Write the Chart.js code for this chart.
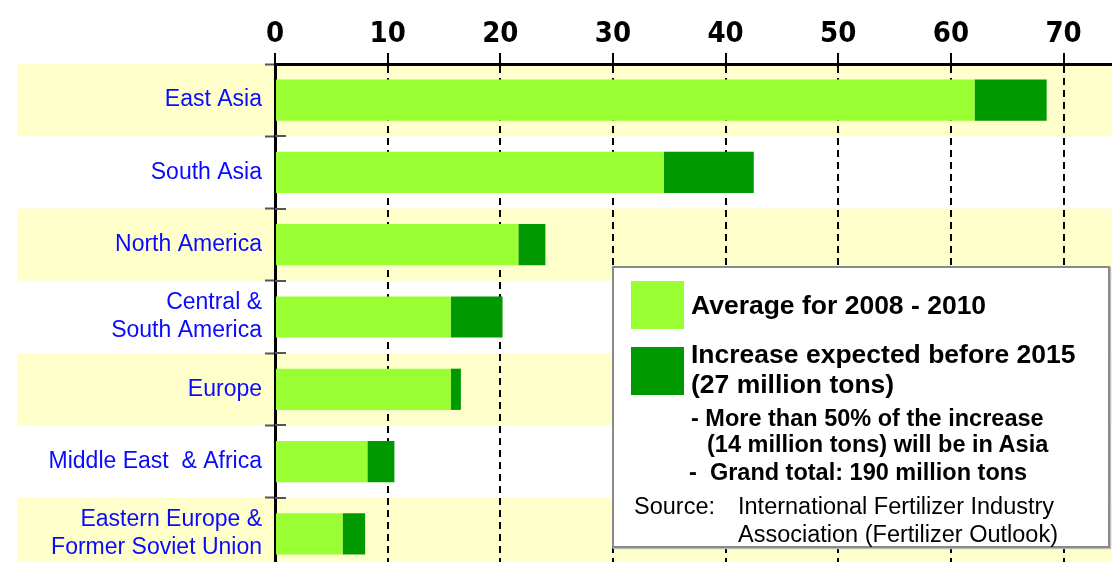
<html>
<head>
<meta charset="UTF-8" />
<title>Fertilizer demand by region</title>
<script src="https://cdn.jsdelivr.net/npm/chart.js"></script>
<style>
    body {
        margin: 0;
        padding: 0;
        overflow: hidden;
        background: #ffffff;
        font-family: "Liberation Sans", Arial, sans-serif;
    }
    #wrap {
        position: relative;
        width: 1112px;
        height: 570px;
    }
    #legendBox {
        position: absolute;
        left: 612px;
        top: 266px;
        width: 494px;
        height: 278px;
        background: #ffffff;
        border: 2px solid #8a8a8a;
        box-shadow: 1px 1px 1px #bbbbbb;
    }
    #legendBox div {
        position: absolute;
        white-space: pre;
        color: #000;
    }
    .sw {
        left: 17px;
        width: 53px;
        height: 48px;
    }
    .big { font-weight: bold; font-size: 26.5px; }
    .note { font-weight: bold; font-size: 23.5px; }
    .src { font-size: 23.5px; }
</style>
<script>
// regions (top to bottom)
var regions = [
    ["East Asia"],
    ["South Asia"],
    ["North America"],
    ["Central &", "South America"],
    ["Europe"],
    ["Middle East  & Africa"],
    ["Eastern Europe &", "Former Soviet Union"]
];
// million tons
var avg0810   = [62.1, 34.5, 21.6, 15.6, 15.6, 8.2, 6.0];
var incr2015  = [6.4, 8.0, 2.4, 4.6, 0.9, 2.4, 2.0];
var seriesNames = ["Average for 2008 - 2010", "Increase expected before 2015"];
var seriesColors = ["#99ff33", "#009900"];
var xTicks = [0, 10, 20, 30, 40, 50, 60, 70];
var axisMax = 74.3;
</script>
</head>
<body>
<div id="wrap">
    <canvas id="chart" width="1112" height="570"></canvas>
    <div id="legendBox">
        <div class="sw" style="top:13px; background:#99ff33;"></div>
        <div class="big" id="lab0" style="left:77px; top:22px;"></div>
        <div class="sw" style="top:79px; background:#009900;"></div>
        <div class="big" id="lab1" style="left:77px; top:71px;"></div>
        <div class="big" style="left:77px; top:101px;">(27 million tons)</div>
        <div class="note" style="left:77px; top:137px;">- More than 50% of the increase</div>
        <div class="note" style="left:93px; top:163px;">(14 million tons) will be in Asia</div>
        <div class="note" style="left:75px; top:191px;">-  Grand total: 190 million tons</div>
        <div class="src" style="left:20px; top:225px;">Source:</div>
        <div class="src" style="left:124px; top:225px;">International Fertilizer Industry</div>
        <div class="src" style="left:124px; top:253px;">Association (Fertilizer Outlook)</div>
    </div>
</div>

<script>
document.getElementById("lab0").textContent = seriesNames[0];
document.getElementById("lab1").textContent = seriesNames[1];

// alternating pale yellow row bands behind everything
const bandPlugin = {
    id: "bands",
    beforeDraw(chart) {
        const ys = chart.scales.y;
        const ctx = chart.ctx;
        const half = (ys.getPixelForValue(1) - ys.getPixelForValue(0)) / 2;
        ctx.save();
        ctx.fillStyle = "#ffffcc";
        for (var i = 0; i < regions.length; i += 2) {
            const c = ys.getPixelForValue(i);
            ctx.fillRect(17, c - half, chart.width - 17, half * 2);
        }
        ctx.restore();
    },
    // short marks at the row borders cross the axis line a little
    afterDraw(chart) {
        const ys = chart.scales.y;
        const ctx = chart.ctx;
        const x0 = chart.chartArea.left;
        const half = (ys.getPixelForValue(1) - ys.getPixelForValue(0)) / 2;
        ctx.save();
        ctx.strokeStyle = "#555555";
        ctx.lineWidth = 2;
        ctx.beginPath();
        for (var i = 0; i < regions.length; i++) {
            const y = Math.round(ys.getPixelForValue(i) + half);
            ctx.moveTo(x0, y);
            ctx.lineTo(x0 + 11, y);
        }
        ctx.stroke();
        ctx.restore();
    }
};

new Chart(document.getElementById("chart"), {
    type: "bar",
    data: {
        labels: regions,
        datasets: [
            {
                label: seriesNames[0],
                data: avg0810,
                backgroundColor: seriesColors[0],
                barPercentage: 0.57,
                categoryPercentage: 1.0,
            },
            {
                label: seriesNames[1],
                data: incr2015,
                backgroundColor: seriesColors[1],
                barPercentage: 0.57,
                categoryPercentage: 1.0,
            },
        ],
    },
    options: {
        indexAxis: "y",
        responsive: false,
        animation: false,
        layout: { padding: 0 },
        plugins: {
            legend: { display: false },
            tooltip: { enabled: false },
        },
        scales: {
            x: {
                position: "top",
                stacked: true,
                min: 0,
                max: axisMax,
                afterBuildTicks: (s) => {
                    s.ticks = xTicks.map(v => ({ value: v }));
                },
                afterFit: (s) => { s.height = 64; },
                ticks: {
                    color: "#000000",
                    padding: 1,
                    font: { family: "'DejaVu Sans Condensed', 'Liberation Sans', Arial", size: 29, weight: "bold" },
                },
                grid: {
                    color: (c) => (c.tick && c.tick.value === 0 ? "rgba(0,0,0,0)" : "#000000"),
                    lineWidth: 2,
                    tickColor: "#000000",
                    tickWidth: 2,
                    tickLength: 11,
                    tickBorderDash: [],
                },
                border: {
                    color: "#000000",
                    width: 3,
                    dash: [7, 5],
                },
            },
            y: {
                stacked: true,
                afterFit: (s) => {
                    s.width = 275;
                    s.paddingTop = 0;
                    s.paddingBottom = 0;
                },
                ticks: {
                    color: "#0a0aff",
                    padding: 3,
                    font: { family: "'Liberation Sans', Arial", size: 23, lineHeight: 1.22 },
                },
                grid: {
                    drawOnChartArea: false,
                    tickColor: "#555555",
                    tickWidth: 2,
                    tickLength: 10,
                },
                border: {
                    color: "#000000",
                    width: 3,
                },
            },
        },
    },
    plugins: [bandPlugin],
});
</script>
</body>
</html>
